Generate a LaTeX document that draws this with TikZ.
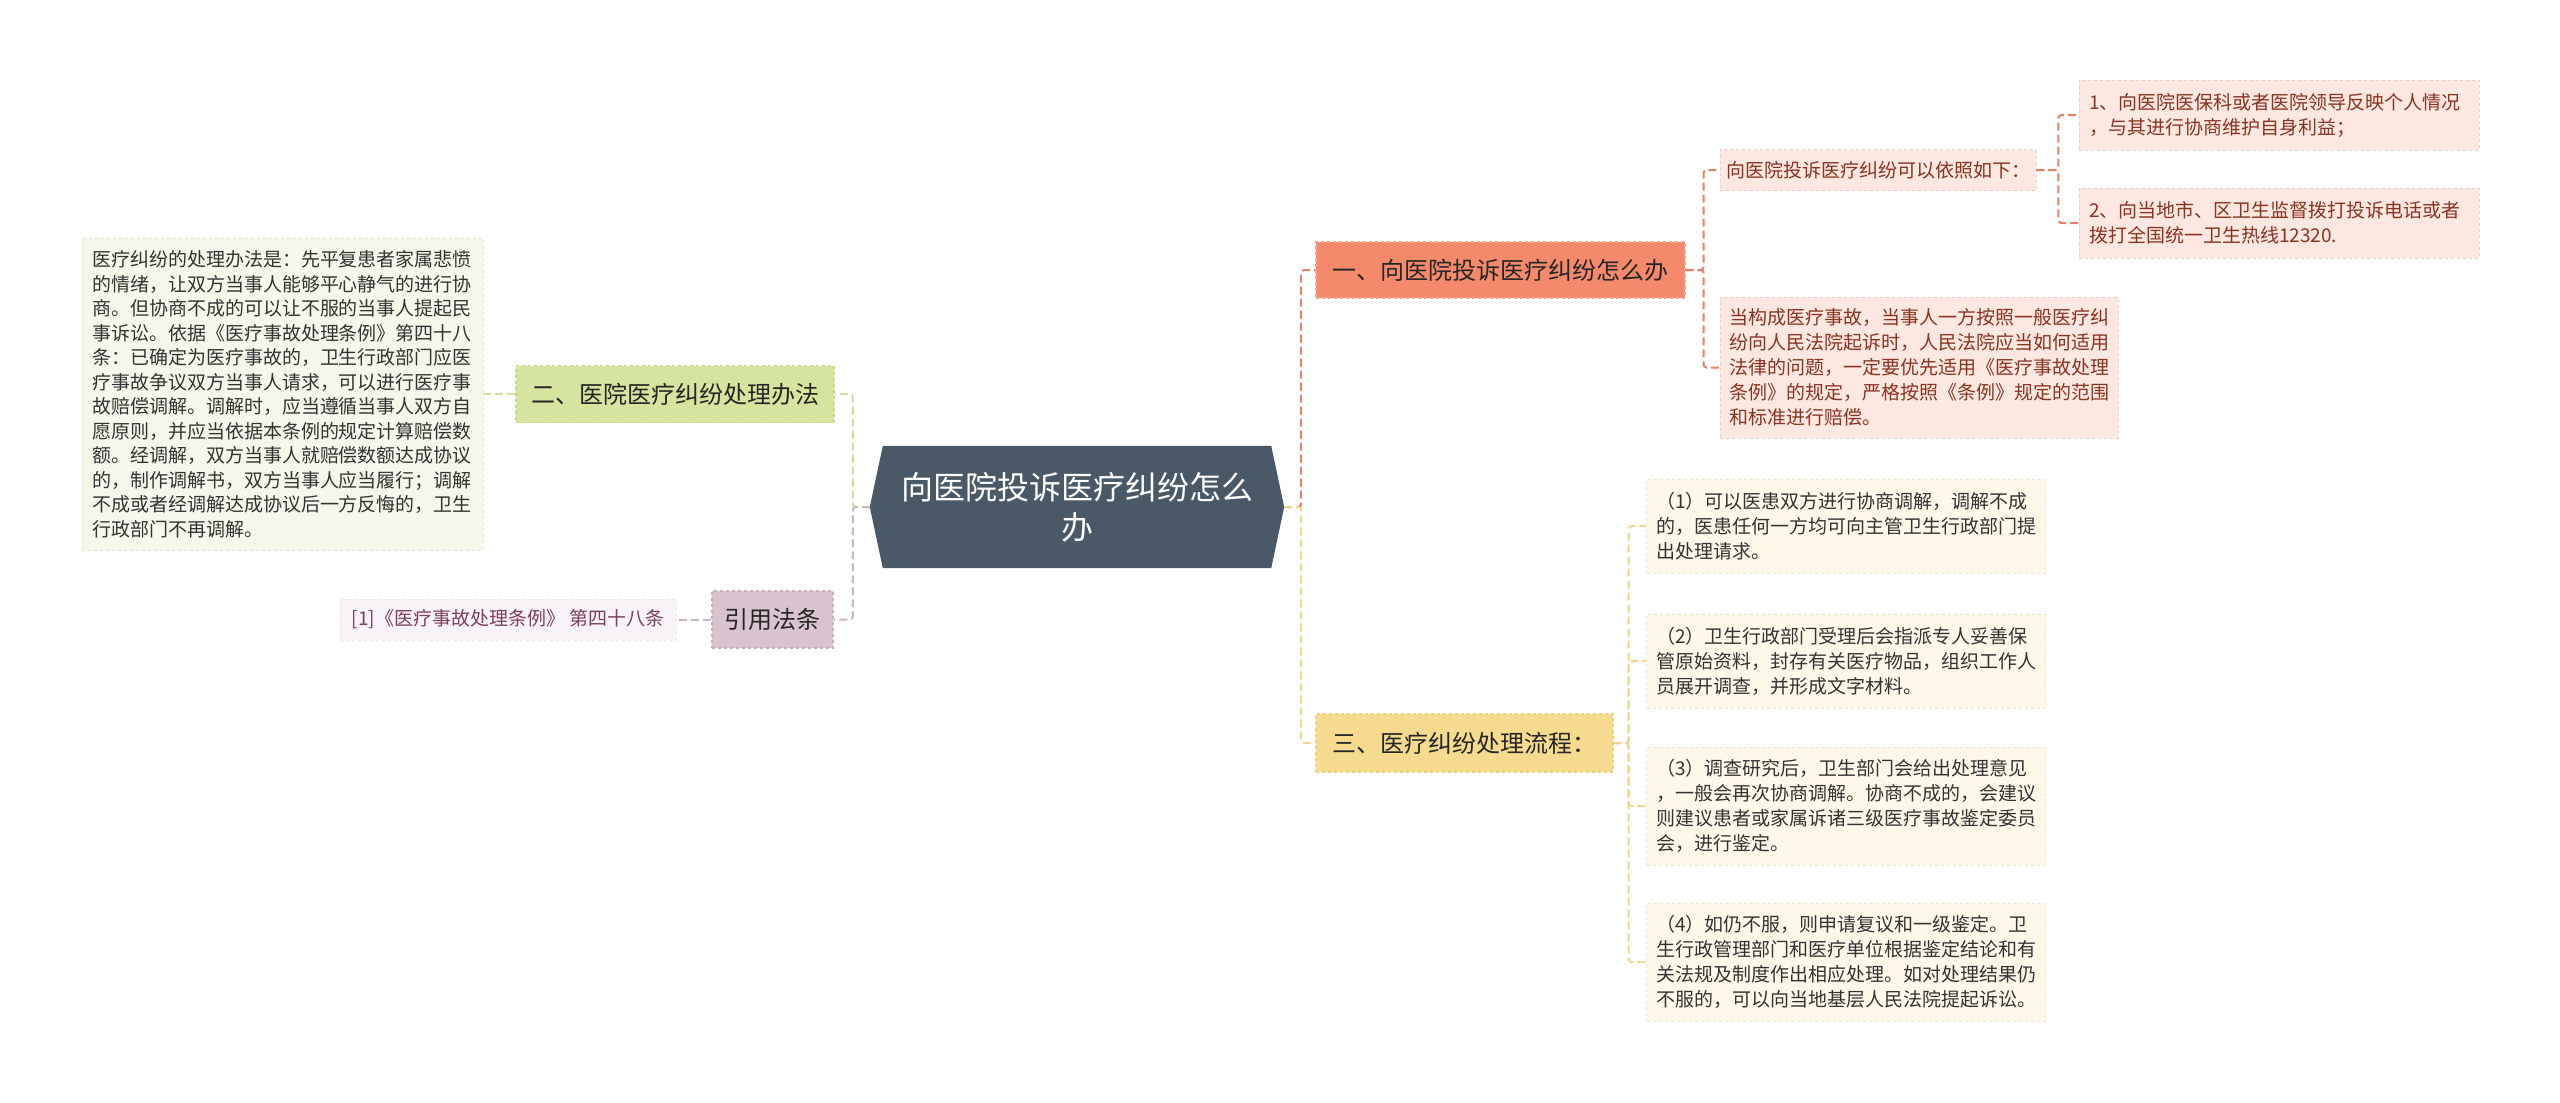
\documentclass[tikz,border=0pt]{standalone}
\usepackage{fontspec}
\setmainfont{Noto Sans CJK SC}
\usetikzlibrary{backgrounds}

\definecolor{rootfill}{HTML}{4A5968}
\definecolor{orangefill}{HTML}{F5896C}
\definecolor{orangeedge}{HTML}{F2A48E}
\definecolor{orangeline}{HTML}{E2806A}
\definecolor{orangeleaf}{HTML}{FCE7E1}
\definecolor{orangetext}{HTML}{8A3320}
\definecolor{yellowfill}{HTML}{F6DB8E}
\definecolor{yellowedge}{HTML}{EFD07A}
\definecolor{yellowline}{HTML}{F0D58A}
\definecolor{yellowleaf}{HTML}{FDF8E8}
\definecolor{greenfill}{HTML}{D5E49E}
\definecolor{greenedge}{HTML}{C6D888}
\definecolor{greenline}{HTML}{CFE09A}
\definecolor{greenleaf}{HTML}{F5F7EA}
\definecolor{mauvefill}{HTML}{D9C3CE}
\definecolor{mauveedge}{HTML}{C8AEBB}
\definecolor{mauveline}{HTML}{C9B6C1}
\definecolor{mauveleaf}{HTML}{F8F3F6}
\definecolor{mauvetext}{HTML}{7D3E5F}

\tikzset{
  rootnode/.style={text=white, font=\fontsize{32}{40}\selectfont, align=center,
    minimum width=414pt, minimum height=122pt, inner sep=0pt},
  branch/.style={inner sep=0pt, align=center, text=black!85,
    font=\fontsize{24}{30}\selectfont, dashed, line width=1.3pt},
  leaf/.style={inner ysep=0pt, align=left, font=\fontsize{19}{25}\selectfont,
    dashed, line width=0.8pt},
  link/.style={line width=2pt, dash pattern=on 8pt off 4pt, rounded corners=3pt},
}

\begin{document}
\begin{tikzpicture}[x=1pt, y=-1pt]
  \useasboundingbox (0,0) rectangle (2560,1103);

  % centre
  \node[rootnode] (root) at (1077,507) {向医院投诉医疗纠纷怎么\\办};
  \begin{scope}[on background layer]
    \fill[white] (0,0) rectangle (2560,1103);
    \fill[rootfill] (root.west) -- ([xshift=13pt]root.north west) -- ([xshift=-13pt]root.north east)
      -- (root.east) -- ([xshift=-13pt]root.south east) -- ([xshift=13pt]root.south west) -- cycle;
  \end{scope}

  % branches
  \node[branch, fill=orangefill, draw=orangeedge, minimum width=369pt, minimum height=56pt] (one) at (1500.5,270) {一、向医院投诉医疗纠纷怎么办};
  \node[branch, fill=greenfill, draw=greenedge, minimum width=318pt, minimum height=57pt] (two) at (675,394) {二、医院医疗纠纷处理办法};
  \node[branch, fill=yellowfill, draw=yellowedge, minimum width=297pt, minimum height=58pt] (three) at (1464.5,743) {三、医疗纠纷处理流程：};
  \node[branch, fill=mauvefill, draw=mauveedge, minimum width=121pt, minimum height=57pt] (cite) at (772.5,619.5) {引用法条};

  % leaves of one
  \node[leaf, align=center, inner xsep=0pt, fill=orangeleaf, draw=orangeleaf!90!black, text=orangetext, minimum width=316pt, minimum height=41pt] (oneA) at (1878,170) {向医院投诉医疗纠纷可以依照如下：};
  \node[leaf, inner xsep=10pt, text width=380pt, fill=orangeleaf, draw=orangeleaf!90!black, text=orangetext, minimum height=70pt] (oneAa) at (2279,115) {1、向医院医保科或者医院领导反映个人情况\\，与其进行协商维护自身利益；};
  \node[leaf, inner xsep=10pt, text width=380pt, fill=orangeleaf, draw=orangeleaf!90!black, text=orangetext, minimum height=70pt] (oneAb) at (2279,223) {2、向当地市、区卫生监督拨打投诉电话或者\\拨打全国统一卫生热线12320.};
  \node[leaf, inner xsep=9pt, text width=380pt, fill=orangeleaf, draw=orangeleaf!90!black, text=orangetext, minimum height=141pt] (oneB) at (1919,367.5) {当构成医疗事故，当事人一方按照一般医疗纠\\纷向人民法院起诉时，人民法院应当如何适用\\法律的问题，一定要优先适用《医疗事故处理\\条例》的规定，严格按照《条例》规定的范围\\和标准进行赔偿。};

  % leaf of two
  \node[leaf, inner xsep=10pt, text width=381pt, fill=greenleaf, draw=greenleaf!92!black, text=black!80, minimum height=312pt, font=\fontsize{19}{24.5}\selectfont] (twoA) at (282.5,394) {医疗纠纷的处理办法是：先平复患者家属悲愤\\的情绪，让双方当事人能够平心静气的进行协\\商。但协商不成的可以让不服的当事人提起民\\事诉讼。依据《医疗事故处理条例》第四十八\\条：已确定为医疗事故的，卫生行政部门应医\\疗事故争议双方当事人请求，可以进行医疗事\\故赔偿调解。调解时，应当遵循当事人双方自\\愿原则，并应当依据本条例的规定计算赔偿数\\额。经调解，双方当事人就赔偿数额达成协议\\的，制作调解书，双方当事人应当履行；调解\\不成或者经调解达成协议后一方反悔的，卫生\\行政部门不再调解。};

  % leaves of three
  \node[leaf, inner xsep=9.5pt, text width=380pt, fill=yellowleaf, draw=yellowleaf!92!black, text=black!80, minimum height=94pt] (threeA) at (1846,526) {（1）可以医患双方进行协商调解，调解不成\\的，医患任何一方均可向主管卫生行政部门提\\出处理请求。};
  \node[leaf, inner xsep=9.5pt, text width=380pt, fill=yellowleaf, draw=yellowleaf!92!black, text=black!80, minimum height=94pt] (threeB) at (1846,661) {（2）卫生行政部门受理后会指派专人妥善保\\管原始资料，封存有关医疗物品，组织工作人\\员展开调查，并形成文字材料。};
  \node[leaf, inner xsep=9.5pt, text width=380pt, fill=yellowleaf, draw=yellowleaf!92!black, text=black!80, minimum height=118pt] (threeC) at (1846,806) {（3）调查研究后，卫生部门会给出处理意见\\，一般会再次协商调解。协商不成的，会建议\\则建议患者或家属诉诸三级医疗事故鉴定委员\\会，进行鉴定。};
  \node[leaf, inner xsep=9.5pt, text width=380pt, fill=yellowleaf, draw=yellowleaf!92!black, text=black!80, minimum height=118pt] (threeD) at (1846,962) {（4）如仍不服，则申请复议和一级鉴定。卫\\生行政管理部门和医疗单位根据鉴定结论和有\\关法规及制度作出相应处理。如对处理结果仍\\不服的，可以向当地基层人民法院提起诉讼。};

  % leaf of cite
  \node[leaf, align=center, inner xsep=0pt, fill=mauveleaf, draw=mauveleaf!94!black, text=mauvetext, minimum width=336pt, minimum height=41pt] (citeA) at (508,619.5) {[1]《医疗事故处理条例》 第四十八条};

  % connectors
  \draw[link, orangeline] (root.east) -- ++(17,0) |- (one.west);
  \draw[link, yellowline] (root.east) -- ++(17,0) |- (three.west);
  \draw[link, greenline] (root.west) -- ++(-17,0) |- (two.east);
  \draw[link, mauveline] (root.west) -- ++(-17,0) |- (cite.east);

  \draw[link, orangeline] (one.east) -- ++(18,0) |- (oneA.west);
  \draw[link, orangeline] (one.east) -- ++(18,0) |- (oneB.west);
  \draw[link, orangeline] (oneA.east) -- ++(22,0) |- (oneAa.west);
  \draw[link, orangeline] (oneA.east) -- ++(22,0) |- (oneAb.west);

  \draw[link, greenline] (two.west) -- (twoA.east);
  \draw[link, mauveline] (cite.west) -- (citeA.east);

  \foreach \leafname in {threeA,threeB,threeC,threeD}
    \draw[link, yellowline] (three.east) -- ++(15,0) |- (\leafname.west);
\end{tikzpicture}
\end{document}
